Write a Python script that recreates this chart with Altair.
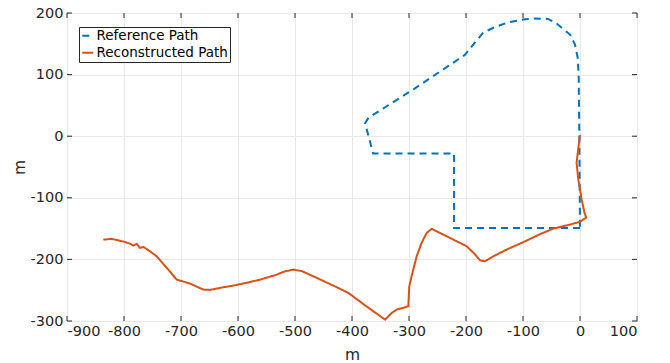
import altair as alt
import pandas as pd

# Reference path (blue dashed)
ref_x = [0, -221, -221, -363, -377, -371, -289, -202, -187, -170, -152, -126, -100, -82, -56, -41, -17.5, -8.8, -4, -2.3, -1.2, 0]
ref_y = [-149, -149, -28, -28, 21, 30, 78, 132, 149, 168, 176, 185, 189.3, 191, 190.4, 182.8, 165, 148.7, 127, 97, 0, -149]

# Reconstructed path (orange)
rec_x = [0, -3, -6, -3, 3, 8, 11, 0, -17.5, -46.8, -70, -99.5, -128.6, -152, -166.7, -175.4, -184,
         -198.8, -216.3, -239.8, -260.2, -269, -277.8, -286.6, -295.4, -299.5, -301.2, -310, -321.6,
         -330.4, -342, -375, -406.4, -430, -468, -488, -503, -518, -532, -561, -585, -608, -626, -649, -661, -684,
         -707.5, -725, -742.6, -754.4, -766, -772, -777.7, -783.6, -789.5, -801, -821.6, -836.4]
rec_y = [2, -20, -43, -70, -103, -125, -132, -139, -143.5, -150, -159, -172, -184, -195, -203, -201.5, -192,
         -178.7, -170.6, -159.7, -150.5, -157, -173, -195, -227.4, -243.7, -276, -278.7, -281.5,
         -286.9, -297.7, -276, -254.4, -243.7, -227.4, -219, -216.6, -219.5, -224.7, -232.8, -238, -242.5, -245.3, -249.5, -249, -239.3,
         -232.8, -213.8, -195, -186.8, -179.7, -181.3, -174.8, -177.6, -174.4, -171, -166.7, -167.9]

series_names = ["Reference Path", "Reconstructed Path"]
series_colors = ["#0072BD", "#D95319"]

x_ticks = [-900, -800, -700, -600, -500, -400, -300, -200, -100, 0, 100]
y_ticks = [-300, -200, -100, 0, 100, 200]

rows = []
for i, (a, b) in enumerate(zip(ref_x, ref_y)):
    rows.append({"x": a, "y": b, "series": series_names[0], "i": i})
for i, (a, b) in enumerate(zip(rec_x, rec_y)):
    rows.append({"x": a, "y": b, "series": series_names[1], "i": i})
df = pd.DataFrame(rows)

FONT = "DejaVu Sans"
TXT = "#262626"
W, H = 570, 308

xscale = alt.Scale(domain=[-900, 100], nice=False, zero=False)
yscale = alt.Scale(domain=[-300, 200], nice=False, zero=False)

lines = alt.Chart(df).mark_line(strokeWidth=2).encode(
    x=alt.X("x:Q", scale=xscale, axis=alt.Axis(
        values=x_ticks, title="m", grid=True, ticks=False, domain=False,
        labelExpr="toString(datum.value)",
        labelFontSize=14.5, labelPadding=3, titleFontSize=15.5, titlePadding=10,
        titleFontWeight="normal")),
    y=alt.Y("y:Q", scale=yscale, axis=alt.Axis(
        values=y_ticks, title="m", grid=True, ticks=False, domain=False,
        labelExpr="toString(datum.value)",
        labelFontSize=14.5, labelPadding=4, titleFontSize=15.5, titlePadding=3,
        titleFontWeight="normal")),
    color=alt.Color("series:N", scale=alt.Scale(domain=series_names, range=series_colors),
                    legend=alt.Legend(title=None, orient="none", legendX=12, legendY=14,
                                      fillColor="white", strokeColor=TXT, padding=2,
                                      labelFontSize=13.5, labelFont=FONT, labelColor="#000000",
                                      symbolType="stroke", symbolStrokeWidth=2, symbolSize=121,
                                      labelOffset=2, rowPadding=2, cornerRadius=0)),
    strokeDash=alt.StrokeDash("series:N", scale=alt.Scale(domain=series_names, range=[[7, 5], [1, 0]]),
                              legend=alt.Legend(title=None, orient="none", legendX=12, legendY=14)),
    order="i:Q",
)

xt = pd.DataFrame({"x": x_ticks})
yt = pd.DataFrame({"y": y_ticks})
tick_color = TXT
bottom = alt.Chart(xt).mark_rule(color=tick_color, strokeWidth=1).encode(
    x=alt.X("x:Q", scale=xscale), y=alt.value(H), y2=alt.value(H - 5))
top = alt.Chart(xt).mark_rule(color=tick_color, strokeWidth=1).encode(
    x=alt.X("x:Q", scale=xscale), y=alt.value(0), y2=alt.value(5))
left = alt.Chart(yt).mark_rule(color=tick_color, strokeWidth=1).encode(
    y=alt.Y("y:Q", scale=yscale), x=alt.value(0), x2=alt.value(5))
right = alt.Chart(yt).mark_rule(color=tick_color, strokeWidth=1).encode(
    y=alt.Y("y:Q", scale=yscale), x=alt.value(W), x2=alt.value(W - 5))

chart = alt.layer(lines, bottom, top, left, right).properties(
    width=W, height=H,
    autosize=alt.AutoSizeParams(type="none"),
    padding={"left": 67, "top": 13, "right": 33, "bottom": 42},
    background="white",
).configure_view(
    stroke=TXT, strokeWidth=1
).configure_axis(
    labelFont=FONT, titleFont=FONT, labelColor=TXT, titleColor=TXT,
    gridColor="#e8e8e8", gridWidth=1
)

chart.save("out.html", embed_options={"renderer": "svg", "actions": False})
